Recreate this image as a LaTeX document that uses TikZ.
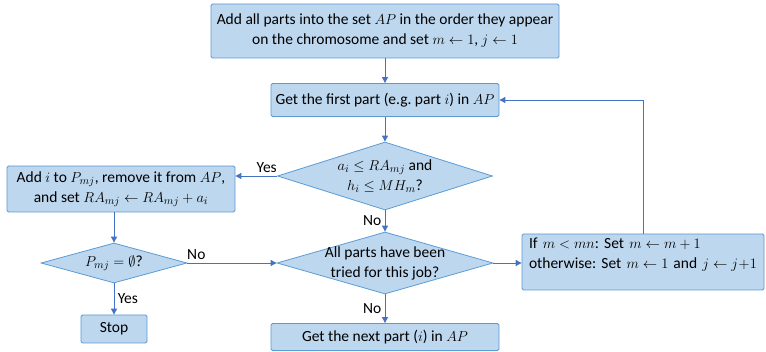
\documentclass[tikz,border=0pt]{standalone}
\usepackage{fontspec}
\setmainfont{Carlito}
\usetikzlibrary{shapes.geometric,arrows.meta}
\definecolor{boxfill}{HTML}{BDD7EE}
\definecolor{boxline}{HTML}{5B9BD5}
\definecolor{arrowblue}{HTML}{4472C4}
\frenchspacing
\begin{document}
\begin{tikzpicture}[x=1pt,y=-1pt,font=\fontsize{15.5}{20}\selectfont,
		proc/.style={draw=boxline,fill=boxfill,line width=0.8pt,rounded corners=1.5pt,align=center,inner sep=0pt},
		decide/.style={draw=boxline,fill=boxfill,line width=0.8pt,diamond,inner sep=0pt},
		flow/.style={draw=arrowblue,line width=0.9pt,-{Triangle[length=6pt,width=6pt]}}]
	\useasboundingbox (0,0) rectangle (766,352);
	% boxes and decisions
	\node[proc,minimum width=348pt,minimum height=54pt] (init) at (385,31) {Add all parts into the set $AP$ in the order they appear\\on the chromosome and set $m\leftarrow 1$, $j\leftarrow 1$};
	\node[proc,minimum width=228pt,minimum height=33pt] (first) at (385,100) {Get the first part (e.g. part $i$) in $AP$};
	\node[decide,minimum width=215pt,minimum height=68pt,label={[align=center]center:$a_i\le RA_{mj}$ and\\$h_i\le MH_m$?}] (fits) at (385,176) {};
	\node[decide,minimum width=216pt,minimum height=62pt,label={[align=center]center:All parts have been\\tried for this job?}] (tried) at (385,263) {};
	\node[proc,minimum width=228pt,minimum height=27pt] (nextp) at (385,337) {Get the next part ($i$) in $AP$};
	\node[proc,minimum width=228pt,minimum height=46pt] (add) at (121,189) {Add $i$ to $P_{mj}$, remove it from $AP$,\\and set $RA_{mj}\leftarrow RA_{mj}+a_i$};
	\node[decide,minimum width=146pt,minimum height=40pt,label={center:$P_{mj}=\emptyset$?}] (check) at (114,263) {};
	\node[proc,minimum width=66pt,minimum height=28pt] (stop) at (114,329) {Stop};
	\node[proc,align=left,text width=228pt,inner xsep=7pt,text height=15pt,text depth=41pt] (update) at (643,262) {If $m<mn$: Set $m\leftarrow m+1$\\otherwise: Set $m\leftarrow 1$ and $j\leftarrow j+1$};
	% connectors
	\draw[flow] (init) -- (first);
	\draw[flow] (first) -- (fits);
	\draw[flow] (fits.west) -- node[pos=.25,above]{Yes} (fits.west -| add.east);
	\draw[flow] (fits) -- node[left]{No} (tried);
	\draw[flow] (tried) -- node[left]{No} (nextp);
	\draw[flow] (tried.east) -- (tried.east -| update.west);
	\draw[flow] (update.north) |- (first.east);
	\draw[flow] (add.south -| check.north) -- (check.north);
	\draw[flow] (check) -- node[pos=.1,above]{No} (tried);
	\draw[flow] (check) -- node[right]{Yes} (stop);
\end{tikzpicture}
\end{document}
